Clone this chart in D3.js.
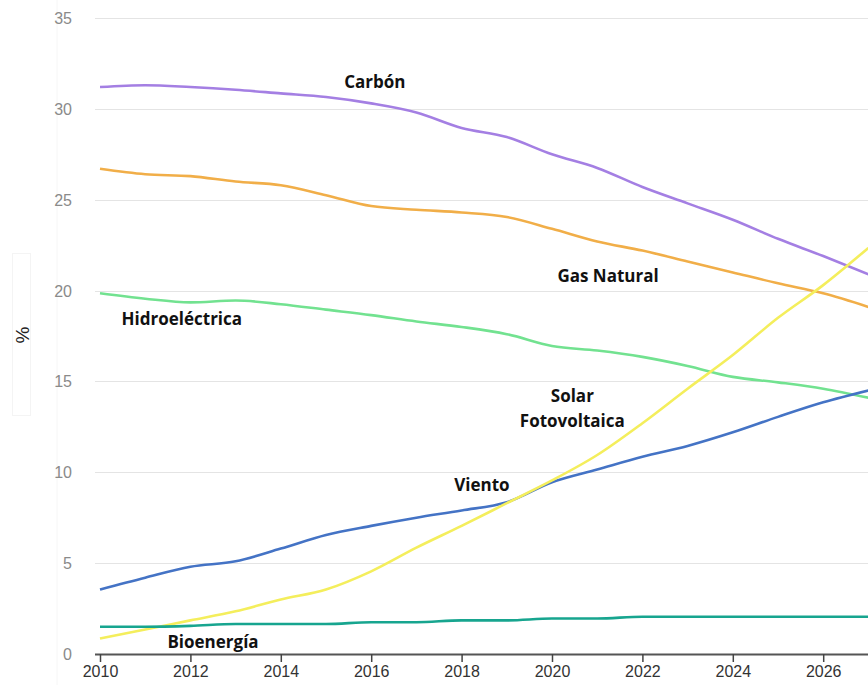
<!DOCTYPE html>
<html>
<head>
<meta charset="utf-8">
<script src="https://cdnjs.cloudflare.com/ajax/libs/d3/7.8.5/d3.min.js"></script>
<style>
  body { margin: 0; background: #fff; }
  svg { display: block; }
</style>
</head>
<body>
<div id="chart"></div>
<script>
// Generación eléctrica por fuente (%)

var years = [2010, 2011, 2012, 2013, 2014, 2015, 2016, 2017, 2018, 2019, 2020, 2021, 2022, 2023, 2024, 2025, 2026, 2027];

var carbon     = [31.2, 31.3, 31.2, 31.05, 30.85, 30.65, 30.3, 29.8, 28.95, 28.45, 27.5, 26.75, 25.7, 24.8, 23.9, 22.85, 21.9, 20.9];
var gasNatural = [26.7, 26.4, 26.3, 26.0, 25.8, 25.25, 24.65, 24.45, 24.3, 24.05, 23.4, 22.7, 22.2, 21.6, 21.0, 20.4, 19.85, 19.1];
var hidro      = [19.85, 19.55, 19.35, 19.45, 19.25, 18.95, 18.65, 18.3, 18.0, 17.6, 16.95, 16.7, 16.35, 15.85, 15.25, 14.95, 14.6, 14.1];
var viento     = [3.55, 4.2, 4.8, 5.1, 5.8, 6.55, 7.05, 7.5, 7.9, 8.35, 9.45, 10.15, 10.85, 11.45, 12.2, 13.05, 13.85, 14.5];
var solar      = [0.85, 1.35, 1.85, 2.35, 3.0, 3.55, 4.55, 5.85, 7.05, 8.3, 9.55, 10.95, 12.7, 14.6, 16.45, 18.5, 20.3, 22.35];
var bioenergia = [1.5, 1.5, 1.55, 1.65, 1.65, 1.65, 1.75, 1.75, 1.85, 1.85, 1.95, 1.95, 2.05, 2.05, 2.05, 2.05, 2.05, 2.05];

var yTicks = [0, 5, 10, 15, 20, 25, 30, 35];
var xTicks = [2010, 2012, 2014, 2016, 2018, 2020, 2022, 2024, 2026];

var seriesValues = [carbon, gasNatural, hidro, viento, solar, bioenergia];
var seriesColors = ["#a47fe3", "#f1ae48", "#72e290", "#4473c5", "#f4ee5c", "#17a58f"];

// label lines and anchor (year, value of baseline) in data units
var labelLines = [["Carbón"], ["Gas Natural"], ["Hidroeléctrica"], ["Viento"], ["Solar", "Fotovoltaica"], ["Bioenergía"]];
var labelYear  = [2016.08, 2021.24, 2011.81, 2018.45, 2020.45, 2012.5];
var labelValue = [31.15, 20.47, 18.1, 8.97, 13.87, 0.33];

var svgWidth = 868, svgHeight = 685;

var svg = d3.select("#chart")
    .append("svg")
        .attr("width", svgWidth)
        .attr("height", svgHeight);

var x = d3.scaleLinear()
    .domain([2010, 2028])
    .range([100, 100 + 18 * 45.2]);

var y = d3.scaleLinear()
    .domain([0, 35])
    .range([654, 18]);

// faint decorations
svg.append("line")
    .attr("x1", 57).attr("x2", 57)
    .attr("y1", 0).attr("y2", svgHeight)
    .attr("stroke", "#f6f6f6")
    .attr("stroke-width", 1);

svg.append("rect")
    .attr("x", 12.5).attr("y", 253.5)
    .attr("width", 18).attr("height", 162)
    .attr("fill", "none")
    .attr("stroke", "#f4f4f4");

// gridlines
svg.append("g")
    .selectAll("line")
    .data(yTicks.filter(function(d) { return d > 0; }))
    .enter().append("line")
        .attr("x1", 95)
        .attr("x2", svgWidth)
        .attr("y1", function(d) { return Math.round(y(d)) + 0.5; })
        .attr("y2", function(d) { return Math.round(y(d)) + 0.5; })
        .attr("stroke", "#e4e4e4")
        .attr("stroke-width", 1.2);

// y labels
svg.append("g")
    .selectAll("text")
    .data(yTicks)
    .enter().append("text")
        .attr("x", 72)
        .attr("y", function(d) { return y(d) + 6; })
        .attr("text-anchor", "end")
        .style("font-family", "'Liberation Sans', Arial, sans-serif")
        .style("font-size", "16px")
        .style("fill", "#8a8a8a")
        .text(function(d) { return d; });

// y title
svg.append("text")
    .attr("transform", "translate(29,335)rotate(-90)")
    .attr("text-anchor", "middle")
    .style("font-family", "'Liberation Sans', Arial, sans-serif")
    .style("font-size", "19px")
    .style("fill", "#222")
    .text("%");

// x axis
var xAxis = svg.append("g")
    .attr("transform", "translate(0,654)")
    .call(d3.axisBottom(x).tickValues(xTicks).tickFormat(d3.format("d")).tickSize(8).tickSizeOuter(0).tickPadding(4));

xAxis.select(".domain")
    .attr("d", "M95,0.5H" + svgWidth)
    .attr("stroke", "#555")
    .attr("stroke-width", 2);
xAxis.selectAll(".tick line")
    .attr("stroke", "#444")
    .attr("stroke-width", 1.5);
xAxis.selectAll(".tick text")
    .style("font-family", "'Liberation Sans', Arial, sans-serif")
    .style("font-size", "16px")
    .style("fill", "#333");

// lines
var line = d3.line()
    .x(function(d, i) { return x(years[i]); })
    .y(function(d) { return y(d); })
    .curve(d3.curveMonotoneX);

svg.append("g")
    .selectAll("path")
    .data(seriesValues)
    .enter().append("path")
        .attr("d", line)
        .attr("fill", "none")
        .attr("stroke", function(d, i) { return seriesColors[i]; })
        .attr("stroke-width", 2.6)
        .attr("stroke-linejoin", "round");

// series labels
var labelG = svg.append("g")
    .selectAll("text")
    .data(labelLines)
    .enter().append("text")
        .attr("x", function(d, i) { return x(labelYear[i]); })
        .attr("y", function(d, i) { return y(labelValue[i]); })
        .attr("text-anchor", "middle")
        .style("font-family", "'Open Sans', sans-serif")
        .style("font-weight", "bold")
        .style("font-size", "17px")
        .style("fill", "#111");

labelG.selectAll("tspan")
    .data(function(d) { return d; })
    .enter().append("tspan")
        .attr("x", function() { return d3.select(this.parentNode).attr("x"); })
        .attr("dy", function(d, i) { return i === 0 ? 0 : 25; })
        .text(function(d) { return d; });
</script>
</body>
</html>
